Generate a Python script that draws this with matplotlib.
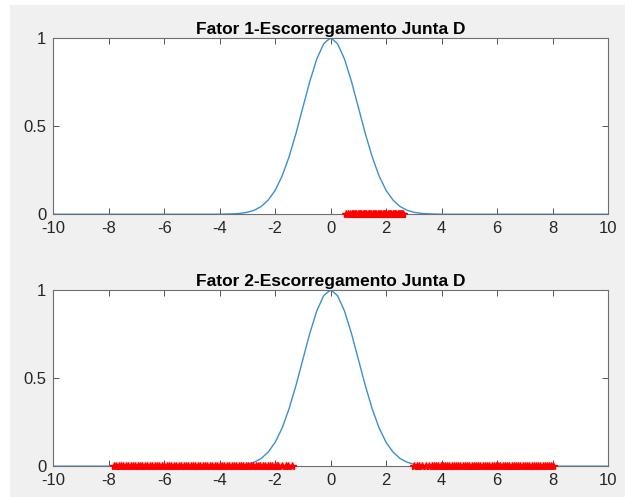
import numpy as np
import matplotlib.pyplot as plt
from matplotlib.patches import Rectangle

plt.rcParams['font.family'] = ['Liberation Sans', 'DejaVu Sans']

# normalized density curve (peak = 1)
curve_x = [-10, -5, -4, -3.5, -3.25, -3.0, -2.75, -2.5, -2.25, -2.0, -1.75, -1.5,
           -1.25, -1.0, -0.75, -0.5, -0.25, -0.1, 0.0, 0.1, 0.25, 0.5, 0.75, 1.0,
           1.25, 1.5, 1.75, 2.0, 2.25, 2.5, 2.75, 3.0, 3.25, 3.5, 4, 5, 10]
curve_y = [0, 0, 0.0, 0.002, 0.005, 0.011, 0.023, 0.044, 0.08, 0.135, 0.216, 0.325,
           0.458, 0.607, 0.755, 0.882, 0.969, 0.99, 1.0, 0.99, 0.969, 0.882, 0.755, 0.607,
           0.458, 0.325, 0.216, 0.135, 0.08, 0.044, 0.023, 0.011, 0.005, 0.002, 0.0, 0, 0]

# sample positions for each factor (plotted on y = 0)
fator1_x = [0.57, 0.63, 0.71, 0.76, 0.8, 0.84, 0.88, 0.93, 0.97, 1.02, 1.06, 1.11,
            1.15, 1.2, 1.24, 1.29, 1.33, 1.38, 1.42, 1.47, 1.51, 1.56, 1.6, 1.65,
            1.69, 1.74, 1.78, 1.83, 1.87, 1.92, 1.96, 2.01, 2.05, 2.1, 2.14, 2.19,
            2.23, 2.28, 2.32, 2.37, 2.41, 2.46, 2.5, 2.55, 2.59, 2.62]
fator2_x = [-7.82, -7.74, -7.62, -7.55, -7.47, -7.38, -7.3, -7.21, -7.12, -7.04,
            -6.95, -6.86, -6.78, -6.69, -6.6, -6.52, -6.43, -6.34, -6.26, -6.17,
            -6.08, -6.0, -5.91, -5.82, -5.74, -5.65, -5.56, -5.48, -5.39, -5.3,
            -5.22, -5.13, -5.04, -4.96, -4.87, -4.78, -4.7, -4.61, -4.52, -4.44,
            -4.35, -4.26, -4.18, -4.09, -4.0, -3.92, -3.83, -3.74, -3.66, -3.57,
            -3.48, -3.4, -3.31, -3.22, -3.14, -3.05, -2.96, -2.88, -2.79, -2.7,
            -2.62, -2.53, -2.44, -2.36, -2.27, -2.18, -2.1, -2.02, -1.95, -1.88,
            -1.75, -1.62, -1.52, -1.38,
            3.02, 3.1, 3.18, 3.3, 3.42, 3.55, 3.64, 3.72, 3.8, 3.88, 3.96, 4.04,
            4.12, 4.2, 4.28, 4.36, 4.44, 4.52, 4.6, 4.68, 4.76, 4.84, 4.92, 5.0,
            5.08, 5.16, 5.24, 5.32, 5.4, 5.48, 5.56, 5.64, 5.72, 5.8, 5.88, 5.96,
            6.04, 6.12, 6.2, 6.28, 6.36, 6.44, 6.52, 6.6, 6.68, 6.76, 6.84, 6.92,
            7.0, 7.08, 7.16, 7.24, 7.32, 7.4, 7.48, 7.56, 7.64, 7.72, 7.8, 7.88,
            7.95, 8.02]

titles = ['Fator 1-Escorregamento Junta D', 'Fator 2-Escorregamento Junta D']
samples = [fator1_x, fator2_x]
xticks = np.arange(-10, 11, 2)
yticks = [0, 0.5, 1]

fig = plt.figure(figsize=(6.25, 4.97), dpi=100, facecolor='white')
# gray window background with a thin white margin on the left and top
bg = Rectangle((0.016, 0), 0.984, 0.99, transform=fig.transFigure,
               facecolor='#f0f0f0', edgecolor='none', zorder=-10)
fig.patches.append(bg)

positions = [[0.085, 0.569, 0.888, 0.354], [0.085, 0.062, 0.888, 0.354]]

for pos, title, xs in zip(positions, titles, samples):
    ax = fig.add_axes(pos)
    ax.plot(curve_x, curve_y, color='#3c8fd0', lw=1.0)
    ax.plot(xs, np.zeros(len(xs)), ls='none', marker='*', color='red',
            markersize=6, clip_on=False, zorder=3)
    ax.set_xlim(-10, 10)
    ax.set_ylim(0, 1)
    ax.set_xticks(xticks)
    ax.set_xticklabels([str(t) for t in xticks])
    ax.set_yticks(yticks)
    ax.set_yticklabels(['0', '0.5', '1'])
    ax.tick_params(direction='in', top=True, right=True, length=4, width=0.7,
                   labelsize=12, colors='#262626', pad=5)
    ax.tick_params(color='#555555')
    for s in ax.spines.values():
        s.set_color('#6e6e6e')
        s.set_linewidth(0.8)
    ax.set_title(title, fontsize=12.5, fontweight='bold', color='#000000', pad=3)

fig.savefig('out.png', dpi=100, facecolor=fig.get_facecolor())
